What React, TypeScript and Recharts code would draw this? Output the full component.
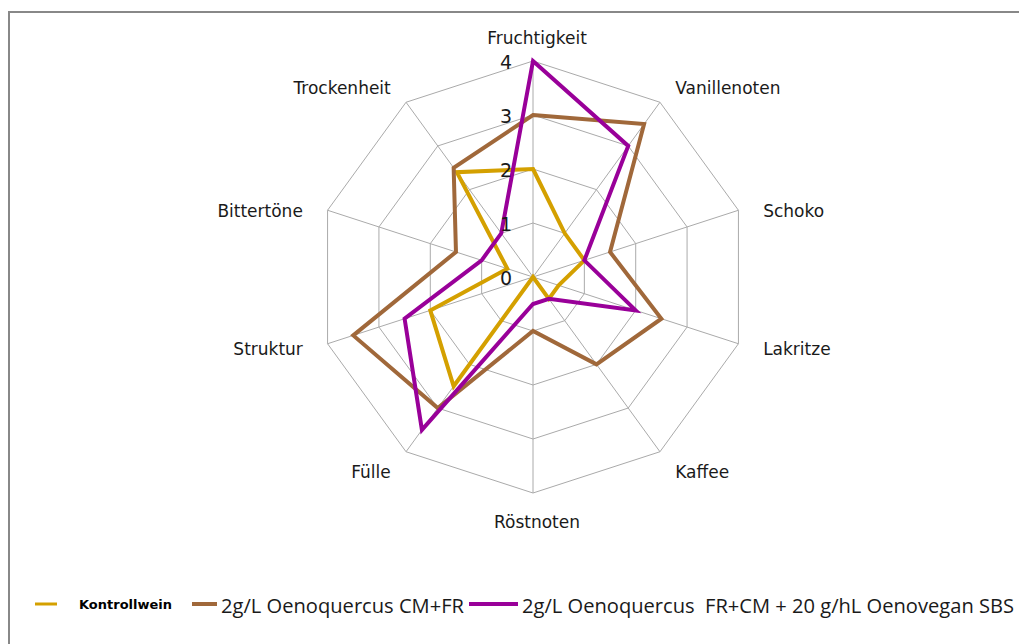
import React from 'react';
import { RadarChart, Radar, PolarGrid, PolarAngleAxis, PolarRadiusAxis, Legend } from 'recharts';

const categories = ['Fruchtigkeit', 'Vanillenoten', 'Schoko', 'Lakritze', 'Kaffee', 'Röstnoten', 'Fülle', 'Struktur', 'Bittertöne', 'Trockenheit'];
const kontrollwein = [2, 1, 1, 0.5, 0.5, 0, 2.5, 2, 0.5, 2.4];
const cmFr = [3, 3.5, 1.5, 2.5, 2, 1, 3, 3.5, 1.5, 2.5];
const frCmVegan = [4, 3, 1, 2, 0.5, 0.5, 3.5, 2.5, 1, 1];
const radiusTicks = [0, 1, 2, 3, 4];

const seriesNames = ['Kontrollwein', '2g/L Oenoquercus CM+FR', '2g/L Oenoquercus  FR+CM + 20 g/hL Oenovegan SBS'];
const colors = ['#D4A000', '#A0683A', '#990099'];

const data = categories.map((c, i) => ({
  name: c,
  k: kontrollwein[i],
  a: cmFr[i],
  b: frCmVegan[i],
}));

const W = 1019;
const H = 644;
const CX = 533;
const CY = 277;
const R = 216;

const AngleTick = (props: any) => {
  const { payload } = props;
  const ang = (payload.coordinate * Math.PI) / 180;
  const dx = Math.cos(ang);
  const dy = -Math.sin(ang);
  const vx = CX + R * dx;
  const vy = CY + R * dy;
  let anchor: 'start' | 'end' | 'middle' = 'middle';
  if (dx > 0.1) anchor = 'start';
  else if (dx < -0.1) anchor = 'end';
  const x = anchor === 'middle' ? vx + 4 : vx + dx * 26;
  const y = vy + 26 * dy * Math.abs(dy) + 3;
  return (
    <text x={x} y={y} textAnchor={anchor} dominantBaseline="central" fontFamily="'DejaVu Sans', sans-serif" fontSize={17} fill="#1a1a1a">
      {payload.value}
    </text>
  );
};

const RadiusTick = (props: any) => {
  const { x, y, payload } = props;
  return (
    <text x={x - 21} y={y + 1} textAnchor="end" dominantBaseline="central" fontFamily="'DejaVu Sans', sans-serif" fontSize={19} fill="#1a1a1a">
      {payload.value}
    </text>
  );
};

const LegendContent = () => (
  <svg width={W} height={40} style={{ display: 'block' }}>
    <line x1={35} x2={57} y1={19} y2={19} stroke={colors[0]} strokeWidth={3} />
    <text x={79} y={19} dominantBaseline="central" fontFamily="'DejaVu Sans', sans-serif" fontWeight="bold" fontSize={13} textLength={93} lengthAdjust="spacingAndGlyphs" fill="#000">
      {seriesNames[0]}
    </text>
    <line x1={192} x2={217} y1={19} y2={19} stroke={colors[1]} strokeWidth={4} />
    <text x={221} y={20} dominantBaseline="central" fontFamily="'Liberation Sans Narrow', 'Open Sans', sans-serif" fontSize={20} textLength={243} lengthAdjust="spacingAndGlyphs" fill="#1a1a1a" style={{ whiteSpace: 'pre' }}>
      {seriesNames[1]}
    </text>
    <line x1={469} x2={518} y1={19} y2={19} stroke={colors[2]} strokeWidth={4} />
    <text x={522} y={20} dominantBaseline="central" fontFamily="'Liberation Sans Narrow', 'Open Sans', sans-serif" fontSize={20} textLength={492} lengthAdjust="spacingAndGlyphs" fill="#1a1a1a" style={{ whiteSpace: 'pre' }}>
      {seriesNames[2]}
    </text>
  </svg>
);

export default function App() {
  return (
    <div style={{ position: 'absolute', left: 0, top: 0, width: W, height: H, background: '#fff', overflow: 'hidden' }}>
      <div style={{ position: 'absolute', left: 8, top: 11, width: W, height: H, borderTop: '2px solid #888', borderLeft: '2px solid #888', boxSizing: 'border-box' }} />
      <div style={{ position: 'absolute', left: 0, top: 0 }}>
        <RadarChart width={W} height={H} data={data} cx={CX} cy={CY} outerRadius={R} startAngle={90} endAngle={-270} margin={{ top: 0, right: 0, bottom: 0, left: 0 }}>
          <PolarGrid gridType="polygon" stroke="#AAAAAA" strokeWidth={1} />
          <PolarAngleAxis dataKey="name" tick={AngleTick} tickLine={false} axisLine={false} />
          <PolarRadiusAxis angle={90} domain={[0, 4]} ticks={radiusTicks as any} tickCount={5} axisLine={false} tick={RadiusTick} />
          <Radar name={seriesNames[0]} dataKey="k" stroke={colors[0]} strokeWidth={4} fill="none" fillOpacity={0} dot={false} isAnimationActive={false} />
          <Radar name={seriesNames[1]} dataKey="a" stroke={colors[1]} strokeWidth={4} fill="none" fillOpacity={0} dot={false} isAnimationActive={false} />
          <Radar name={seriesNames[2]} dataKey="b" stroke={colors[2]} strokeWidth={4} fill="none" fillOpacity={0} dot={false} isAnimationActive={false} />
          <Legend content={LegendContent} wrapperStyle={{ position: 'absolute', left: 0, top: 585, width: W, height: 40 }} />
        </RadarChart>
      </div>
    </div>
  );
}
